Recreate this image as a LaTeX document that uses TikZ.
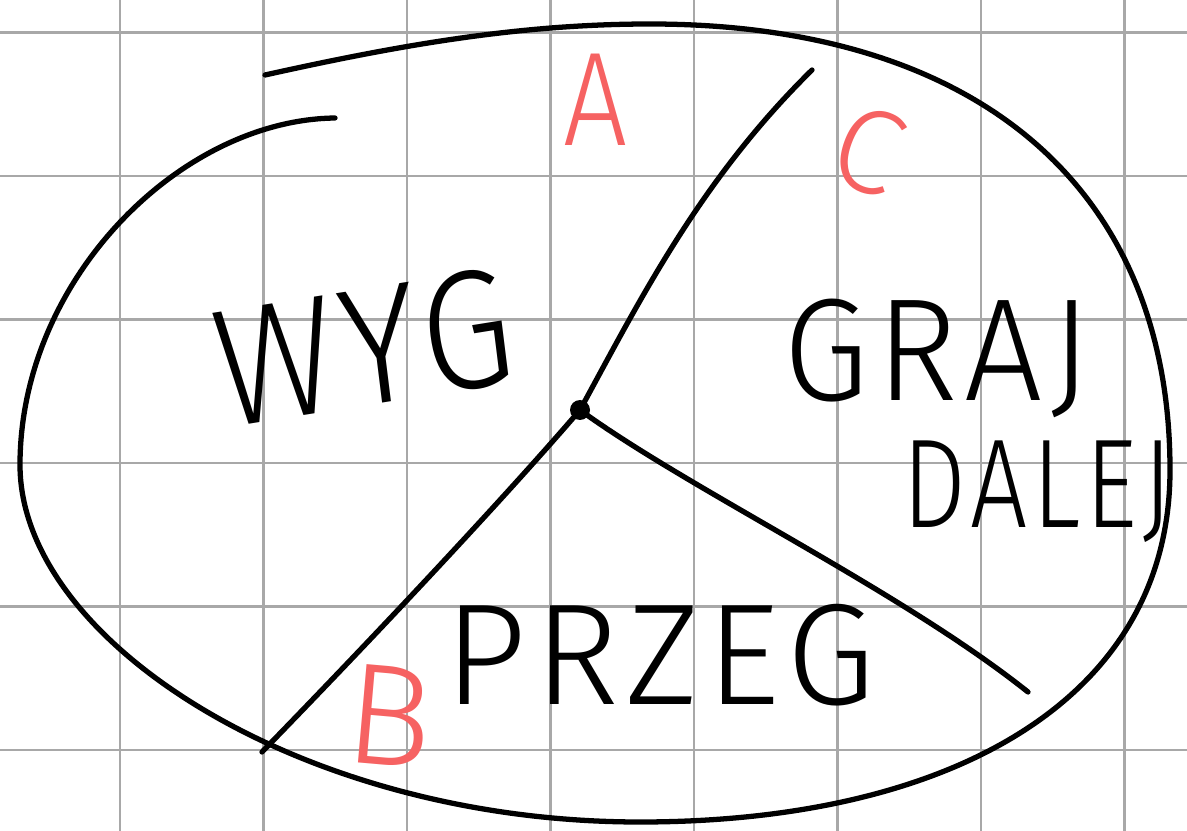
\documentclass[tikz,border=0pt]{standalone}
\usepackage{fontspec}
\usepackage{xcolor}
\usetikzlibrary{positioning}
\newfontfamily\handfont[LetterSpace=5]{Fira Sans Light}
\definecolor{gridgray}{RGB}{168,168,168}
\definecolor{tagred}{RGB}{246,98,98}

\begin{document}
\begin{tikzpicture}[x=0.02cm,y=-0.02cm,
    pen/.style={line width=3pt,line cap=round,line join=round},
    word/.style={inner sep=0pt,font=\handfont\fontsize{#1}{#1}\selectfont,transform shape},
    tag/.style={word=#1,text=tagred}]
  \useasboundingbox (0,0) rectangle (1187,831);
  \foreach \i in {0,...,7} {
    \draw[gridgray,line width=1.6pt] (120+143.5*\i,0) -- (120+143.5*\i,831);
  }
  \foreach \j in {0,...,5} {
    \draw[gridgray,line width=1.6pt] (0,32.5+143.5*\j) -- (1187,32.5+143.5*\j);
  }
  \draw[pen] (265,75) .. controls (400,45) and (520,24) .. (650,24)
    .. controls (980,24) and (1170,190) .. (1170,470)
    .. controls (1170,700) and (950,822) .. (640,822)
    .. controls (300,822) and (20,640) .. (20,465)
    .. controls (20,280) and (180,120) .. (335,118);

  \coordinate (hub) at (580,410);
  \coordinate (endA) at (812,70);
  \coordinate (endB) at (262,752);
  \coordinate (endC) at (1028,692);
  \fill (hub) circle[radius=0.2cm];
  \draw[pen] (hub) .. controls (640,300) and (700,180) .. (endA);
  \draw[pen] (hub) .. controls (520,480) and (400,610) .. (endB);
  \draw[pen] (hub) .. controls (690,490) and (900,590) .. (endC);

  \node[word=96,xscale=0.88,rotate=8] (wyg) at (364,348) {WYG};
  \node[word=83,xscale=0.95] (graj) at (937,358) {GRAJ};
  \node[word=72,xscale=0.8] (dalej) at (1037,492) {DALEJ};
  \node[word=82,xscale=1.0] (przeg) at (660,655) {PRZEG};

  \node[tag=76,xscale=0.85] (tagA) at (596,100) {A};
  \node[tag=68,rotate=-20] (tagC) at (868,150) {C};
  \node[tag=82,rotate=-5] (tagB) at (390,716) {B};
\end{tikzpicture}
\end{document}
